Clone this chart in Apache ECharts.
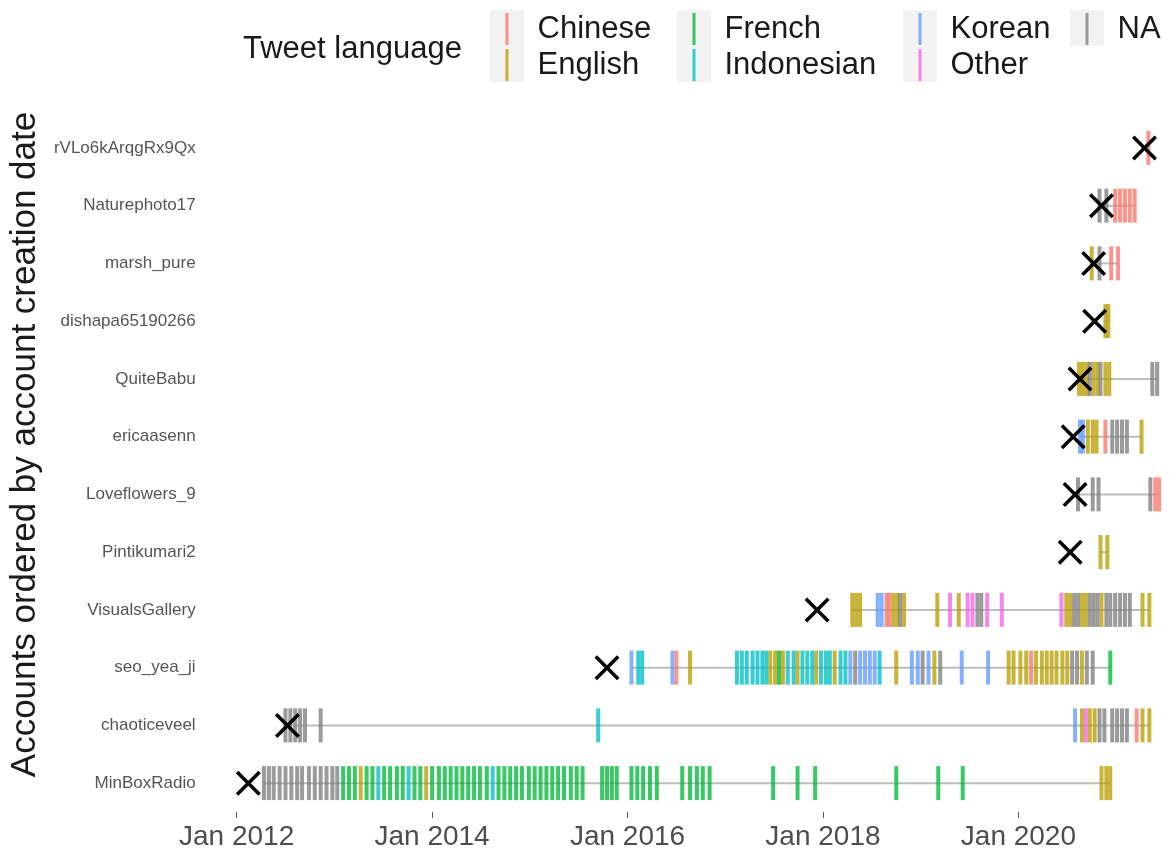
<!DOCTYPE html>
<html>
<head>
<meta charset="utf-8">
<script src="https://cdn.jsdelivr.net/npm/echarts@6/dist/echarts.min.js"></script>
<style>
  html, body { margin: 0; padding: 0; background: #ffffff; }
  #chart { width: 1169px; height: 861px; }
</style>
</head>
<body>
<div id="chart"></div>
<script>
// Accounts, bottom to top (ordered by account creation date)
const accounts = ['MinBoxRadio', 'chaoticeveel', 'seo_yea_ji', 'VisualsGallery', 'Pintikumari2',
  'Loveflowers_9', 'ericaasenn', 'QuiteBabu', 'dishapa65190266', 'marsh_pure', 'Naturephoto17', 'rVLo6kArqgRx9Qx'];

// Account creation date (decimal year), same order as accounts
const createdAt = [2012.12, 2012.52, 2015.79, 2017.94, 2020.53, 2020.58, 2020.56, 2020.63, 2020.78, 2020.77, 2020.85, 2021.29];

// Tweet dates (decimal year) per account, one table per tweet language
const chineseTweets = {
  seo_yea_ji: [2016.50, 2020.13],
  VisualsGallery: [2018.65, 2018.68],
  chaoticeveel: [2021.21],
  Loveflowers_9: [2021.40, 2021.44],
  ericaasenn: [2020.89],
  marsh_pure: [2020.95, 2021.02],
  Naturephoto17: [2020.99, 2021.04, 2021.09, 2021.14, 2021.19],
  rVLo6kArqgRx9Qx: [2021.33]
};
const englishTweets = {
  MinBoxRadio: [2013.27, 2013.94, 2020.85, 2020.90, 2020.94],
  chaoticeveel: [2020.65, 2020.73, 2020.78, 2021.27, 2021.34],
  seo_yea_ji: [2016.64, 2017.46, 2017.51, 2017.59, 2017.74, 2017.93, 2018.12, 2018.75, 2019.14, 2019.90, 2019.95,
    2020.02, 2020.08, 2020.18, 2020.24, 2020.29, 2020.34, 2020.39, 2020.45, 2020.50, 2020.65],
  VisualsGallery: [2018.30, 2018.34, 2018.38, 2018.72, 2018.76, 2018.83, 2019.17, 2019.39, 2020.49, 2020.53,
    2020.65, 2020.69, 2020.85, 2021.27, 2021.34],
  Pintikumari2: [2020.84, 2020.91],
  ericaasenn: [2020.71, 2020.76, 2020.80, 2021.26],
  QuiteBabu: [2020.62, 2020.66, 2020.70, 2020.77, 2020.81, 2020.89, 2020.93],
  dishapa65190266: [2020.89, 2020.92],
  marsh_pure: [2020.75]
};
const frenchTweets = {
  MinBoxRadio: [2013.09, 2013.15, 2013.21, 2013.33, 2013.39, 2013.51, 2013.57, 2013.64, 2013.70, 2013.82, 2013.88,
    2014.00, 2014.07, 2014.13, 2014.19, 2014.25, 2014.31, 2014.37, 2014.43, 2014.49, 2014.56, 2014.68, 2014.74,
    2014.80, 2014.86, 2014.92, 2014.99, 2015.05, 2015.11, 2015.17, 2015.23, 2015.29, 2015.35, 2015.42, 2015.48,
    2015.54, 2015.74, 2015.79, 2015.84, 2015.89, 2016.04, 2016.10, 2016.16, 2016.23, 2016.30, 2016.56, 2016.64,
    2016.71, 2016.77, 2016.84, 2017.49, 2017.74, 2017.92, 2018.75, 2019.18, 2019.43],
  seo_yea_ji: [2017.55, 2020.94]
};
const indonesianTweets = {
  MinBoxRadio: [2013.45, 2013.76, 2014.62],
  chaoticeveel: [2015.70],
  seo_yea_ji: [2016.11, 2016.15, 2017.12, 2017.17, 2017.22, 2017.28, 2017.33, 2017.38, 2017.42, 2017.64, 2017.70,
    2017.79, 2017.84, 2017.89, 2017.98, 2018.03, 2018.07, 2018.18, 2018.23, 2018.58]
};
const koreanTweets = {
  chaoticeveel: [2020.58],
  seo_yea_ji: [2016.04, 2016.46, 2018.28, 2018.38, 2018.43, 2018.48, 2018.53, 2018.91, 2018.97, 2019.08, 2019.42, 2019.69],
  VisualsGallery: [2018.56, 2018.60],
  ericaasenn: [2020.63, 2020.66]
};
const otherTweets = {
  chaoticeveel: [2020.69],
  VisualsGallery: [2019.30, 2019.48, 2019.53, 2019.68, 2019.83, 2020.44]
};
const naTweets = {
  MinBoxRadio: [2012.28, 2012.33, 2012.38, 2012.44, 2012.50, 2012.56, 2012.62, 2012.67, 2012.74, 2012.80, 2012.86,
    2012.92, 2012.98, 2013.03],
  chaoticeveel: [2012.50, 2012.55, 2012.60, 2012.65, 2012.70, 2012.86, 2020.83, 2020.88, 2020.96, 2021.01, 2021.06, 2021.11],
  seo_yea_ji: [2018.33, 2019.02, 2019.20, 2020.55, 2020.60, 2020.70, 2020.76],
  VisualsGallery: [2018.79, 2019.58, 2019.62, 2020.57, 2020.61, 2020.73, 2020.77, 2020.81, 2020.90, 2020.94, 2020.99,
    2021.04, 2021.09, 2021.14],
  Loveflowers_9: [2020.61, 2020.76, 2020.82, 2021.35],
  ericaasenn: [2020.96, 2021.01, 2021.06, 2021.11],
  QuiteBabu: [2020.73, 2020.84, 2021.37, 2021.42],
  marsh_pure: [2020.83],
  Naturephoto17: [2020.83, 2020.90]
};

const languages = ['Chinese', 'English', 'French', 'Indonesian', 'Korean', 'Other', 'NA'];
const languageTweets = [chineseTweets, englishTweets, frenchTweets, indonesianTweets, koreanTweets, otherTweets, naTweets];
const languageColors = ['#F8766D', '#B79F00', '#00BA38', '#00BFC4', '#619CFF', '#F564E3', '#7F7F7F'];

const xTicks = [2012, 2014, 2016, 2018, 2020];

// [date, account] pairs for each language
const tickData = languageTweets.map(table => {
  const out = [];
  Object.keys(table).forEach(acc => table[acc].forEach(t => out.push([t, acc])));
  return out;
});

// Activity span: first to last tweet of every account
const spans = accounts.map((acc, i) => {
  const all = [];
  languageTweets.forEach(table => { if (table[acc]) all.push(...table[acc]); });
  return [Math.min(...all), Math.max(...all), i];
});

const FONT = 'Liberation Sans, Arial, sans-serif';
const crossPath = 'path://M0,2L2,0L10,8L18,0L20,2L12,10L20,18L18,20L10,12L2,20L0,18L8,10Z';

const chart = echarts.init(document.getElementById('chart'), null, { renderer: 'canvas' });

const tickSeries = languages.map((lang, i) => ({
  name: lang,
  type: 'scatter',
  data: tickData[i],
  symbol: 'rect',
  symbolSize: [4, 34],
  itemStyle: { color: languageColors[i], opacity: 0.78 },
  emphasis: { disabled: true },
  z: 3
}));

// Legend columns: [items, icon x]
const legendCols = [
  [['Chinese', 'English'], 507],
  [['French', 'Indonesian'], 694],
  [['Korean', 'Other'], 920],
  [['NA'], 1087]
];

const option = {
  backgroundColor: '#ffffff',
  animation: false,
  textStyle: { fontFamily: FONT },
  title: {
    text: 'Tweet language',
    left: 243, top: 34, padding: 0,
    textStyle: { fontFamily: FONT, fontSize: 31, fontWeight: 'normal', color: '#1a1a1a' }
  },
  graphic: legendCols.map(([items, x]) => ({
    type: 'rect', z: -1,
    shape: { x: x - 17, y: 10, width: 34, height: 36 * items.length },
    style: { fill: '#f2f2f2' }
  })),
  legend: legendCols.map(([items, x]) => ({
    data: items,
    orient: 'vertical',
    left: x - 1.5, top: 13,
    padding: 0,
    itemWidth: 3, itemHeight: 32, itemGap: 4,
    icon: 'rect',
    selectedMode: false,
    textStyle: { fontFamily: FONT, fontSize: 31, color: '#1a1a1a', padding: [0, 0, 0, 24] }
  })),
  grid: { left: 205, right: 4, top: 119, bottom: 49, containLabel: false },
  xAxis: {
    type: 'value',
    min: 2011.683, max: 2021.5,
    axisLine: { show: false },
    splitLine: { show: false },
    axisTick: { show: true, customValues: xTicks, length: 6, lineStyle: { color: '#555', width: 1 } },
    axisLabel: {
      customValues: xTicks, margin: 11,
      formatter: v => 'Jan ' + v,
      fontFamily: FONT, fontSize: 28, color: '#4d4d4d'
    }
  },
  yAxis: {
    type: 'category',
    data: accounts,
    name: 'Accounts ordered by account creation date',
    nameLocation: 'middle',
    nameRotate: 90,
    nameGap: 162,
    nameTextStyle: { fontFamily: FONT, fontSize: 35, color: '#1a1a1a', padding: [0, 0, 0, 42] },
    axisLine: { show: false },
    axisTick: { show: false },
    splitLine: { show: false },
    axisLabel: { margin: 10, fontFamily: FONT, fontSize: 17, color: '#555' }
  },
  series: [
    {
      type: 'custom',
      name: 'span',
      data: spans,
      encode: { x: [0, 1], y: 2 },
      renderItem: (params, api) => {
        const a = api.coord([api.value(0), api.value(2)]);
        const b = api.coord([api.value(1), api.value(2)]);
        return {
          type: 'line',
          shape: { x1: a[0], y1: a[1], x2: b[0], y2: b[1] },
          style: { stroke: '#bdbdbd', lineWidth: 2 }
        };
      },
      silent: true,
      z: 1
    },
    ...tickSeries,
    {
      type: 'scatter',
      name: 'created',
      data: createdAt.map((t, i) => [t, accounts[i]]),
      symbol: crossPath,
      symbolSize: 25,
      itemStyle: { color: '#000000', opacity: 1 },
      emphasis: { disabled: true },
      z: 5
    }
  ]
};

chart.setOption(option);
</script>
</body>
</html>
